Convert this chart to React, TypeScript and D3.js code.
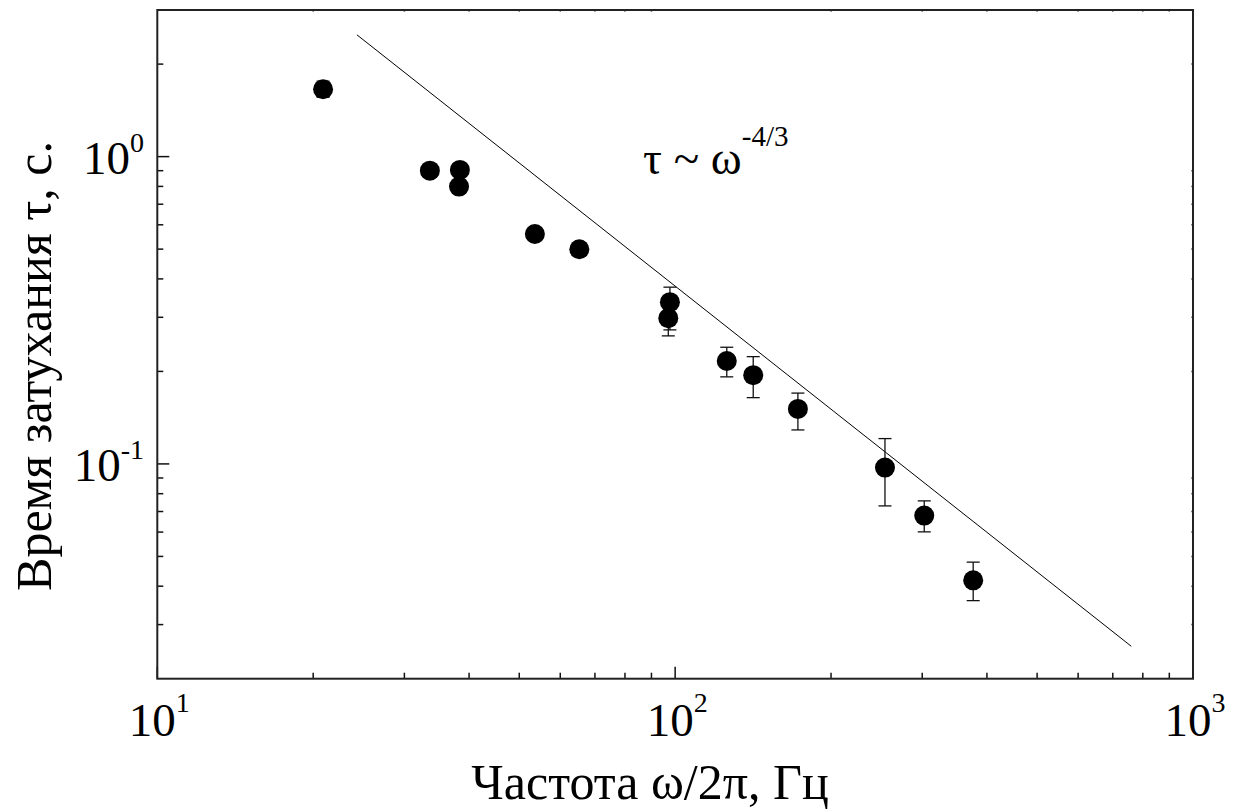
import React from 'react';
import * as d3 from 'd3';

// Data
const freq = [20.9, 33.6, 38.4, 38.25, 53.6, 65.3, 97.7, 97.0, 125.8, 141.5, 172.6, 254.2, 302.7, 376.3];
const tau = [1.657, 0.9, 0.905, 0.799, 0.56, 0.4995, 0.336, 0.298, 0.2163, 0.1944, 0.151, 0.0973, 0.0679, 0.0418];
const tauLow = [1.56, 0.9, 0.905, 0.799, 0.56, 0.4995, 0.273, 0.261, 0.192, 0.1643, 0.129, 0.073, 0.0601, 0.0359];
const tauHigh = [1.76, 0.9, 0.905, 0.799, 0.56, 0.4995, 0.376, 0.33, 0.2397, 0.2234, 0.17, 0.1209, 0.0758, 0.0479];

const fitFreq = [24.3, 760];
const fitTau = [2.49, 0.0255];

const xTicks = [10, 100, 1000];
const xTickExp = ['1', '2', '3'];
const yTicks = [1, 0.1];
const yTickExp = ['0', '-1'];

const xTitle = 'Частота ω/2π, Гц';
const yTitle = 'Время затухания τ, с.';

const W = 1237;
const H = 812;
const L = 157.3, R = 1193, T = 10, B = 678.7;

export default function App() {
  const x = d3.scaleLog().domain([10, 1000]).range([L, R]);
  const y = d3.scaleLog().domain([0.02, 3]).range([B, T]);

  const xMinor: number[] = [];
  for (let d = 10; d < 1000; d *= 10) for (let k = 2; k <= 9; k++) xMinor.push(d * k);
  const yMinor: number[] = [];
  [0.01, 0.1, 1].forEach((d) => {
    for (let k = 2; k <= 9; k++) {
      const v = d * k;
      if (v > 0.02 && v < 3) yMinor.push(v);
    }
  });

  const line = d3.line<[number, number]>().x((d) => x(d[0])).y((d) => y(d[1]));
  const fitPts: [number, number][] = fitFreq.map((f, i) => [f, fitTau[i]]);

  const font = "'Liberation Serif', 'DejaVu Serif', serif";
  const cap = 6.5;

  return (
    <svg width={W} height={H} style={{ position: 'absolute', left: 0, top: 0, display: 'block', background: '#fff', fontFamily: font }}>
      {xMinor.map((v, i) => (
        <g key={'xm' + i}>
          <line x1={x(v)} x2={x(v)} y1={B} y2={B - 6} stroke="#111" strokeWidth={1.5} />
          <line x1={x(v)} x2={x(v)} y1={T} y2={T + 1.5} stroke="#111" strokeWidth={1.5} />
        </g>
      ))}
      {xTicks.map((v, i) => (
        <g key={'xM' + i}>
          <line x1={x(v)} x2={x(v)} y1={B} y2={B - 12} stroke="#111" strokeWidth={1.5} />
          <text x={x(v) + 2} y={736} fontSize={47} textAnchor="middle" fill="#000">
            10<tspan fontSize={28} dy={-24}>{xTickExp[i]}</tspan>
          </text>
        </g>
      ))}
      {yMinor.map((v, i) => (
        <g key={'ym' + i}>
          <line x1={L} x2={L + 6} y1={y(v)} y2={y(v)} stroke="#111" strokeWidth={1.5} />
          <line x1={R} x2={R - 1.5} y1={y(v)} y2={y(v)} stroke="#111" strokeWidth={1.5} />
        </g>
      ))}
      {yTicks.map((v, i) => (
        <g key={'yM' + i}>
          <line x1={L} x2={L + 12} y1={y(v)} y2={y(v)} stroke="#111" strokeWidth={1.5} />
          <text x={144} y={y(v) + 17} fontSize={47} textAnchor="end" fill="#000">
            10<tspan fontSize={28} dy={-22}>{yTickExp[i]}</tspan>
          </text>
        </g>
      ))}
      <rect x={L} y={T} width={R - L} height={B - T} fill="none" stroke="#222" strokeWidth={2} />

      <path d={line(fitPts) || ''} fill="none" stroke="#000" strokeWidth={1} />

      {freq.map((f, i) => (
        <g key={'e' + i} stroke="#111" strokeWidth={1.3}>
          {tauHigh[i] !== tauLow[i] && (
            <>
              <line x1={x(f)} x2={x(f)} y1={y(tauHigh[i])} y2={y(tauLow[i])} />
              <line x1={x(f) - cap} x2={x(f) + cap} y1={y(tauHigh[i])} y2={y(tauHigh[i])} />
              <line x1={x(f) - cap} x2={x(f) + cap} y1={y(tauLow[i])} y2={y(tauLow[i])} />
            </>
          )}
        </g>
      ))}
      {freq.map((f, i) => (
        <circle key={'p' + i} cx={x(f)} cy={y(tau[i])} r={10} fill="#000" />
      ))}

      <text x={643} y={174} fontSize={47} fill="#000">
        τ ~ ω<tspan fontSize={29} dy={-28}>-4/3</tspan>
      </text>

      <text x={650} y={799} fontSize={50} textAnchor="middle" fill="#000">{xTitle}</text>
      <text transform={`translate(51, 366) rotate(-90)`} fontSize={50} textAnchor="middle" fill="#000">{yTitle}</text>
    </svg>
  );
}
